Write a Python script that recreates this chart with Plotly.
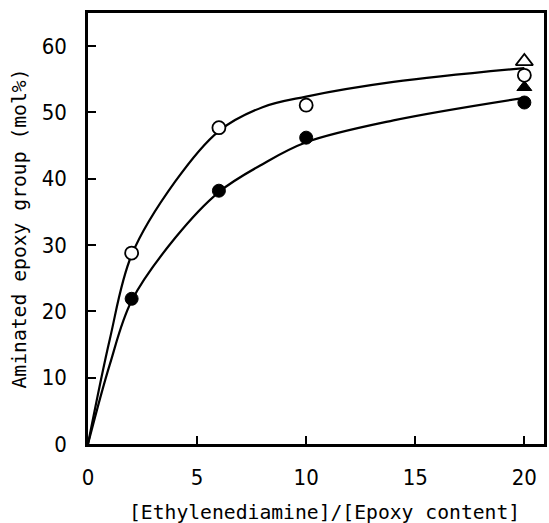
import plotly.graph_objects as go

# data points
x_pts = [2, 6, 10, 20]
open_circle = [28.8, 47.7, 51.1, 55.6]
filled_circle = [21.9, 38.2, 46.2, 51.5]
tri_x = [20]
open_triangle = [57.7]
filled_triangle = [53.8]

# fitted curves
upper_x = [0, 1, 2, 4, 6, 8, 10, 14, 20]
upper_y = [0, 15.8, 28.5, 39.6, 47.2, 50.8, 52.4, 54.6, 56.7]
lower_x = [0, 1, 2, 4, 6, 8, 10, 14, 20]
lower_y = [0, 12.0, 21.6, 31.1, 38.0, 42.2, 45.5, 48.8, 52.2]

x_ticks = [0, 5, 10, 15, 20]
y_ticks = [0, 10, 20, 30, 40, 50, 60]
x_title = "[Ethylenediamine]/[Epoxy content]"
y_title = "Aminated epoxy group (mol%)"

fig = go.Figure()
line_style = dict(color="black", width=2.2, shape="spline", smoothing=1.0)
fig.add_trace(go.Scatter(x=upper_x, y=upper_y, mode="lines", line=line_style, showlegend=False))
fig.add_trace(go.Scatter(x=lower_x, y=lower_y, mode="lines", line=line_style, showlegend=False))

fig.add_trace(go.Scatter(x=tri_x, y=open_triangle, mode="markers",
                         marker=dict(symbol="triangle-up", size=15, color="white",
                                     line=dict(color="black", width=1.8)), showlegend=False))
fig.add_trace(go.Scatter(x=tri_x, y=filled_triangle, mode="markers",
                         marker=dict(symbol="triangle-up", size=13, color="black",
                                     line=dict(color="black", width=1)), showlegend=False))
fig.add_trace(go.Scatter(x=x_pts, y=open_circle, mode="markers",
                         marker=dict(symbol="circle", size=13, color="white",
                                     line=dict(color="black", width=1.8)), showlegend=False))
fig.add_trace(go.Scatter(x=x_pts, y=filled_circle, mode="markers",
                         marker=dict(symbol="circle", size=13, color="black",
                                     line=dict(color="black", width=1)), showlegend=False))

tick_font = dict(family="DejaVu Sans Condensed, Liberation Sans Narrow, Liberation Sans", size=22, color="black")
title_font = dict(family="DejaVu Sans Mono, Liberation Mono", size=19.7, color="black")

fig.update_layout(
    width=549, height=523,
    margin=dict(l=88, r=2, t=13, b=79),
    paper_bgcolor="white", plot_bgcolor="white",
    xaxis=dict(range=[0, 20.9], tickvals=x_ticks, ticks="inside", ticklen=8, tickwidth=2,
               tickcolor="black", showline=True, linecolor="black", linewidth=2.5,
               mirror=True, showgrid=False, zeroline=False, tickfont=tick_font,
               ticklabelstandoff=12),
    yaxis=dict(range=[0, 65], tickvals=y_ticks, ticks="inside", ticklen=8, tickwidth=2,
               tickcolor="black", showline=True, linecolor="black", linewidth=2.5,
               mirror=True, showgrid=False, zeroline=False, tickfont=tick_font,
               ticklabelstandoff=14,
               title=dict(text=y_title, font=title_font, standoff=10)),
    annotations=[dict(text=x_title, xref="paper", yref="paper", x=0.518, y=-0.158,
                      xanchor="center", yanchor="middle", showarrow=False, font=title_font)],
)

fig.write_html("out.html")
